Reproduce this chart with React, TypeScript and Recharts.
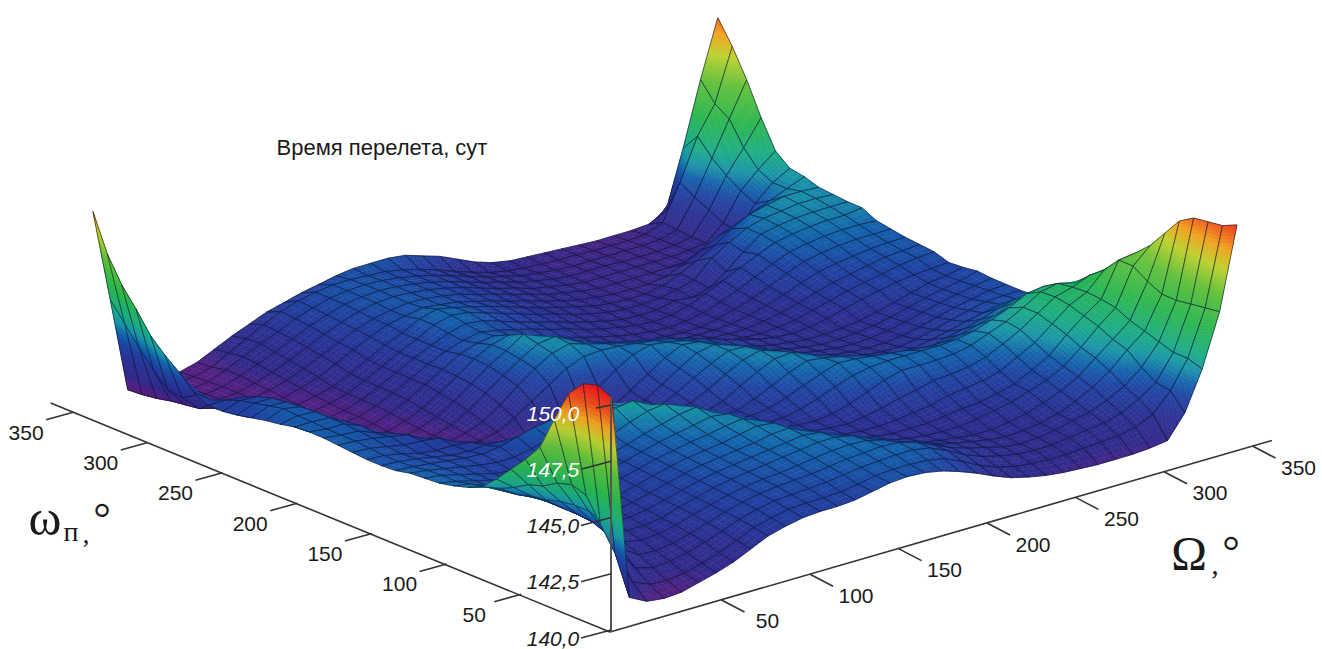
import { ScatterChart, Scatter, XAxis, YAxis } from 'recharts';

// flight time above the 140 day floor, one row per omega step (10 deg), one value per Omega step (10 deg)
const omega0 = [10.3,1.3,.9,.8,.85,1.05,1.25,1.5,1.85,2.2,2.4,2.55,2.6,2.6,2.65,2.8,2.95,3.0,2.95,2.8,2.55,2.25,1.9,1.6,1.4,1.25,1.15,1.1,1.05,1.05,1.05,1.1,1.2,2.2,3.9,6.2,9.8];
const omega10 = [10.6,3.0,1.5,1.15,1.1,1.2,1.4,1.65,1.95,2.3,2.5,2.65,2.7,2.7,2.75,2.85,3.0,3.05,3.05,3.0,2.85,2.5,2.1,1.8,1.6,1.5,1.45,1.45,1.5,1.55,1.6,1.75,2.1,2.9,4.1,6.1,9.5];
const omega20 = [10.4,4.0,2.6,1.6,1.4,1.45,1.6,1.85,2.1,2.4,2.6,2.75,2.8,2.85,2.9,3.0,3.1,3.15,3.2,3.2,3.05,2.7,2.3,2.0,1.8,1.65,1.6,1.6,1.7,1.8,1.9,2.1,2.5,3.0,4.1,6.0,9.4];
const omega30 = [9.7,5.0,3.6,2.2,1.7,1.65,1.75,1.95,2.2,2.45,2.65,2.8,2.9,2.95,3.0,3.1,3.2,3.25,3.3,3.25,3.05,2.7,2.35,2.1,1.9,1.7,1.6,1.65,1.75,1.95,2.1,2.4,2.8,3.4,4.3,5.9,9.3];
const omega40 = [8.3,5.2,3.8,2.6,2.0,1.85,1.9,2.05,2.3,2.5,2.7,2.85,2.95,3.0,3.1,3.2,3.3,3.35,3.3,3.1,2.8,2.5,2.25,2.05,1.9,1.75,1.65,1.7,1.8,2.0,2.3,2.7,3.2,3.9,4.5,5.9,8.9];
const omega50 = [6.8,5.0,3.8,2.85,2.2,2.0,2.0,2.1,2.35,2.55,2.75,2.9,3.0,3.1,3.2,3.3,3.4,3.4,3.25,2.9,2.5,2.25,2.05,1.9,1.8,1.7,1.7,1.8,1.95,2.2,2.5,2.9,3.5,4.1,4.7,6.2,8.1];
const omega60 = [6.0,4.6,3.7,2.9,2.3,2.1,2.1,2.2,2.4,2.6,2.8,2.95,3.05,3.15,3.25,3.35,3.45,3.35,3.0,2.6,2.3,2.1,1.95,1.85,1.8,1.8,1.9,2.05,2.2,2.45,2.7,3.1,3.7,4.4,5.0,6.6,7.3];
const omega70 = [5.3,4.4,3.5,2.9,2.4,2.2,2.15,2.25,2.45,2.65,2.85,3.0,3.1,3.2,3.3,3.45,3.5,3.15,2.7,2.4,2.15,2.0,1.9,1.9,1.9,2.0,2.1,2.15,2.3,2.5,2.9,3.3,4.0,4.6,5.1,6.6,6.7];
const omega80 = [4.6,4.0,3.4,2.9,2.45,2.3,2.2,2.3,2.5,2.7,2.9,3.05,3.15,3.25,3.4,3.55,3.45,2.95,2.5,2.25,2.05,1.95,1.95,2.0,2.1,2.2,2.4,2.5,2.6,2.8,3.2,3.6,4.2,4.8,5.15,5.9,6.1];
const omega90 = [4.0,3.7,3.2,2.85,2.5,2.35,2.3,2.35,2.55,2.75,2.95,3.1,3.25,3.35,3.5,3.6,3.3,2.75,2.35,2.15,2.05,2.0,2.1,2.25,2.45,2.6,2.8,2.85,2.95,3.15,3.5,3.9,4.4,4.9,5.1,5.4,5.4];
const omega100 = [3.7,3.5,3.1,2.8,2.5,2.4,2.35,2.4,2.6,2.8,3.0,3.2,3.35,3.5,3.65,3.55,3.05,2.55,2.25,2.15,2.1,2.2,2.4,2.7,3.0,3.2,3.2,3.2,3.25,3.4,3.7,4.0,4.4,4.85,5.0,4.8,4.7];
const omega110 = [3.5,3.35,3.05,2.8,2.55,2.4,2.35,2.45,2.65,2.85,3.05,3.3,3.5,3.7,3.8,3.35,2.8,2.4,2.2,2.2,2.35,2.6,2.9,3.15,3.3,3.35,3.35,3.35,3.35,3.4,3.55,3.8,4.1,4.5,4.6,4.2,4.0];
const omega120 = [3.35,3.2,3.0,2.8,2.55,2.4,2.4,2.5,2.7,2.95,3.25,3.55,3.8,3.9,3.6,3.0,2.55,2.3,2.25,2.35,2.6,2.9,3.2,3.45,3.4,3.3,3.2,3.1,3.0,3.0,3.1,3.3,3.5,3.8,3.9,3.5,3.3];
const omega130 = [3.3,3.2,3.0,2.8,2.6,2.5,2.5,2.6,2.85,3.2,3.6,3.9,4.0,3.6,3.0,2.5,2.25,2.15,2.2,2.5,2.85,3.2,3.5,3.4,3.25,3.05,2.85,2.65,2.5,2.45,2.7,2.85,3.05,3.3,3.5,3.45,3.4];
const omega140 = [3.25,3.15,3.0,2.85,2.7,2.6,2.6,2.75,3.0,3.4,3.75,3.95,3.5,2.9,2.4,2.15,2.05,2.1,2.35,2.8,3.2,3.55,3.6,3.3,3.0,2.75,2.5,2.3,2.2,2.2,2.35,2.5,2.7,2.85,3.0,3.0,2.95];
const omega150 = [3.1,3.05,2.95,2.85,2.75,2.7,2.8,3.0,3.2,3.3,3.2,2.9,2.5,2.2,2.05,2.0,2.05,2.25,2.6,3.05,3.45,3.65,3.4,3.0,2.7,2.45,2.25,2.1,2.0,2.0,2.1,2.3,2.5,2.7,2.85,2.9,2.9];
const omega160 = [3.05,3.0,2.9,2.75,2.6,2.55,2.6,2.55,2.4,2.1,1.9,1.7,1.55,1.5,1.6,1.8,2.05,2.4,2.85,3.25,3.6,3.55,3.2,2.8,2.5,2.25,2.05,1.95,1.9,1.9,2.0,2.15,2.35,2.55,2.7,2.85,2.9];
const omega170 = [3.05,3.0,2.85,2.65,2.55,2.55,2.45,2.2,1.85,1.6,1.35,1.2,1.15,1.2,1.4,1.7,2.05,2.5,3.0,3.45,3.6,3.35,3.0,2.65,2.35,2.1,1.95,1.85,1.8,1.85,1.95,2.1,2.3,2.5,2.65,2.8,2.9];
const omega180 = [3.1,3.05,2.9,2.75,2.7,2.6,2.2,1.75,1.4,1.15,1.0,.95,1.0,1.15,1.4,1.75,2.2,2.7,3.2,3.55,3.45,3.15,2.8,2.5,2.2,2.0,1.85,1.75,1.75,1.8,1.9,2.05,2.25,2.45,2.6,2.75,2.95];
const omega190 = [3.15,3.1,3.0,2.85,2.7,2.3,1.8,1.4,1.1,.95,.9,.95,1.15,1.45,1.8,2.3,2.85,3.3,3.5,3.4,3.25,2.95,2.65,2.35,2.1,1.9,1.8,1.7,1.7,1.75,1.85,2.0,2.2,2.4,2.6,2.7,2.85];
const omega200 = [3.2,3.1,3.05,2.75,2.5,1.9,1.4,1.1,1.0,1.05,1.2,1.6,2.1,2.6,3.1,3.4,3.45,3.4,3.3,3.2,3.05,2.85,2.6,2.35,2.1,1.9,1.75,1.7,1.75,1.9,2.1,2.3,2.45,2.6,2.7,2.75,2.8];
const omega210 = [3.2,3.1,3.1,2.8,2.2,1.5,1.1,.95,.95,1.1,1.4,1.9,2.5,3.05,3.5,3.7,3.45,3.25,3.05,2.9,2.7,2.45,2.2,1.95,1.8,1.7,1.65,1.7,1.8,2.0,2.2,2.4,2.55,2.7,2.85,2.95,3.0];
const omega220 = [3.15,3.15,3.1,2.7,1.9,1.25,.95,.85,.95,1.2,1.6,2.15,2.7,3.2,3.65,3.75,3.35,3.05,2.8,2.6,2.4,2.2,2.0,1.8,1.65,1.6,1.6,1.7,1.85,2.05,2.3,2.5,2.65,2.8,2.95,3.0,3.05];
const omega230 = [3.0,3.15,3.1,2.5,1.6,1.05,.85,.85,1.0,1.3,1.75,2.3,2.85,3.3,3.8,3.5,3.05,2.7,2.45,2.25,2.05,1.85,1.7,1.55,1.5,1.5,1.55,1.7,1.9,2.15,2.45,2.7,2.85,2.95,3.05,3.1,3.1];
const omega240 = [2.9,3.2,3.05,2.2,1.3,.9,.8,.85,1.05,1.4,1.85,2.35,2.9,3.3,3.5,3.05,2.7,2.45,2.2,2.0,1.8,1.6,1.45,1.4,1.35,1.35,1.5,1.7,1.95,2.25,2.6,2.9,3.05,3.15,3.2,3.2,3.2];
const omega250 = [2.75,3.05,3.0,1.9,1.1,.85,.8,.9,1.15,1.5,1.95,2.4,2.85,3.1,3.2,2.95,2.7,2.45,2.2,2.0,1.8,1.6,1.45,1.35,1.3,1.35,1.5,1.75,2.05,2.4,2.75,3.05,3.2,3.3,3.35,3.35,3.3];
const omega260 = [2.6,2.9,2.9,1.65,1.0,.85,.85,.95,1.2,1.55,1.95,2.35,2.7,2.95,3.1,2.95,2.75,2.55,2.3,2.1,1.85,1.65,1.5,1.35,1.3,1.35,1.55,1.85,2.2,2.55,2.9,3.2,3.35,3.45,3.5,3.5,3.6];
const omega270 = [2.5,2.75,2.7,1.45,.95,.85,.85,.95,1.2,1.55,1.95,2.35,2.7,3.0,3.2,3.1,2.85,2.6,2.35,2.15,1.9,1.7,1.5,1.35,1.3,1.3,1.5,1.4,1.6,2.1,2.75,3.3,3.45,3.55,3.6,3.6,3.6];
const omega280 = [2.5,2.5,2.4,1.3,.95,.85,.85,1.0,1.2,1.55,1.95,2.35,2.7,3.1,3.3,3.2,2.95,2.7,2.45,2.2,2.0,1.75,1.55,1.4,1.3,1.3,1.35,1.5,1.7,2.45,2.9,3.3,3.5,3.6,3.7,3.7,3.65];
const omega290 = [2.8,2.25,1.95,1.05,.9,.85,.9,1.05,1.25,1.6,2.0,2.4,2.7,3.1,3.3,3.15,2.95,2.75,2.5,2.25,2.0,1.8,1.6,1.4,1.3,1.25,1.25,1.4,1.7,2.05,2.5,3.0,3.4,3.6,3.75,3.75,3.7];
const omega300 = [3.4,2.2,1.6,.95,.85,.85,.95,1.15,1.4,1.75,2.15,2.5,2.8,2.95,3.1,3.0,2.9,2.7,2.5,2.25,2.05,1.8,1.6,1.4,1.3,1.2,1.2,1.2,1.3,1.6,2.0,2.4,2.7,3.0,3.3,3.6,3.9];
const omega310 = [3.9,1.8,1.1,.9,.8,.85,1.0,1.2,1.5,1.85,2.2,2.55,2.8,2.95,3.05,3.0,2.9,2.75,2.5,2.3,2.05,1.85,1.6,1.45,1.3,1.2,1.2,1.2,1.2,1.2,1.25,1.3,1.45,1.9,2.9,3.6,4.0];
const omega320 = [4.5,1.9,1.0,.85,.8,.85,1.05,1.3,1.6,1.95,2.3,2.6,2.85,3.0,3.05,3.0,2.9,2.75,2.55,2.3,2.05,1.85,1.6,1.45,1.3,1.2,1.2,1.2,1.2,1.2,1.2,1.25,1.35,2.0,3.2,3.9,4.5];
const omega330 = [5.4,2.5,.9,.8,.75,.85,1.1,1.4,1.7,2.05,2.4,2.65,2.9,3.0,3.05,3.0,2.9,2.75,2.55,2.3,2.05,1.85,1.6,1.45,1.3,1.2,1.2,1.2,1.15,1.15,1.15,1.2,1.35,2.3,3.6,4.6,5.7];
const omega340 = [6.2,3.2,.75,.7,.7,.8,1.1,1.45,1.8,2.1,2.45,2.7,2.9,3.0,3.05,3.0,2.9,2.75,2.55,2.3,2.05,1.8,1.6,1.4,1.3,1.2,1.15,1.15,1.15,1.15,1.15,1.2,1.4,2.6,4.1,5.6,7.1];
const omega350 = [7.3,4.0,.65,.65,.7,.75,.95,1.35,1.75,2.15,2.5,2.75,2.9,3.0,3.0,2.95,2.9,2.75,2.55,2.3,2.0,1.75,1.5,1.35,1.25,1.2,1.15,1.15,1.1,1.1,1.1,1.15,1.45,3.0,4.8,6.0,8.3];
const omega360 = [8.9,4.8,.6,.6,.6,.7,.9,1.25,1.6,1.9,2.2,2.4,2.6,2.75,2.9,3.0,3.0,3.0,2.9,2.65,2.4,2.05,1.7,1.45,1.3,1.25,1.2,1.15,1.1,1.05,1.05,1.05,1.1,1.45,4.0,6.8,9.3];

const surfaceRows = [
  omega0, omega10, omega20, omega30, omega40, omega50, omega60, omega70, omega80, omega90,
  omega100, omega110, omega120, omega130, omega140, omega150, omega160, omega170, omega180,
  omega190, omega200, omega210, omega220, omega230, omega240, omega250, omega260, omega270,
  omega280, omega290, omega300, omega310, omega320, omega330, omega340, omega350, omega360,
];

const omegaTicks = [50, 100, 150, 200, 250, 300, 350];
const bigOmegaTicks = [50, 100, 150, 200, 250, 300, 350];
const timeTicks = [0, 2.5, 5, 7.5, 10];
const timeLabels = ['140,0', '142,5', '145,0', '147,5', '150,0'];
const title = 'Время перелета, сут';

const STEP = 10;

// 3D box -> page position
const project = (bigOmega: number, omega: number, h: number) => ({
  x: 612 + 1.736 * bigOmega - 1.442 * omega,
  y: 632 - 0.513 * bigOmega - 0.607 * omega - 22.7 * h,
});

const colorStops: [number, number[]][] = [
  [0.6, [88, 32, 128]],
  [0.95, [80, 34, 132]],
  [1.3, [50, 42, 138]],
  [2.0, [44, 48, 146]],
  [2.8, [32, 68, 162]],
  [3.3, [20, 100, 172]],
  [3.8, [26, 148, 168]],
  [4.4, [28, 172, 132]],
  [5.5, [44, 182, 78]],
  [6.8, [96, 192, 60]],
  [7.9, [190, 208, 48]],
  [8.7, [240, 164, 32]],
  [9.5, [238, 84, 30]],
  [10.4, [232, 28, 30]],
];

function heightColor(h: number) {
  if (h <= colorStops[0][0]) return `rgb(${colorStops[0][1].join(',')})`;
  for (let k = 1; k < colorStops.length; k++) {
    const [h1, c1] = colorStops[k];
    if (h <= h1) {
      const [h0, c0] = colorStops[k - 1];
      const t = (h - h0) / (h1 - h0);
      return `rgb(${c0.map((v, n) => Math.round(v + (c1[n] - v) * t)).join(',')})`;
    }
  }
  return `rgb(${colorStops[colorStops.length - 1][1].join(',')})`;
}

// back to front, so nearer cells paint over farther ones
const cells: any[] = [];
for (let j = surfaceRows.length - 2; j >= 0; j--) {
  for (let i = surfaceRows[j].length - 2; i >= 0; i--) {
    const corners = [
      [i, j],
      [i + 1, j],
      [i + 1, j + 1],
      [i, j + 1],
    ].map(([a, b]) => ({ O: a * STEP, w: b * STEP, h: surfaceRows[b][a] }));
    const center = project(
      (i + 0.5) * STEP,
      (j + 0.5) * STEP,
      (corners[0].h + corners[1].h + corners[2].h + corners[3].h) / 4,
    );
    cells.push({ x: center.x, y: center.y, corners });
  }
}

function SurfaceCell({ cx, cy, payload }: any) {
  const { corners, x, y } = payload;
  const heights = corners.map((c: any) => c.h);
  const spread = Math.max(...heights) - Math.min(...heights);
  const n = Math.min(30, Math.max(2, Math.ceil(spread / 0.15)));
  const at = (u: number, v: number) => {
    const O = corners[0].O + u * STEP;
    const w = corners[0].w + v * STEP;
    const h =
      corners[0].h * (1 - u) * (1 - v) +
      corners[1].h * u * (1 - v) +
      corners[2].h * u * v +
      corners[3].h * (1 - u) * v;
    const p = project(O, w, h);
    return { px: cx + p.x - x, py: cy + p.y - y, h };
  };
  const parts = [];
  for (let a = 0; a < n; a++) {
    for (let b = 0; b < n; b++) {
      const q = [at(a / n, b / n), at((a + 1) / n, b / n), at((a + 1) / n, (b + 1) / n), at(a / n, (b + 1) / n)];
      const fill = heightColor((q[0].h + q[1].h + q[2].h + q[3].h) / 4);
      parts.push(
        <polygon
          key={`${a}-${b}`}
          points={q.map((p) => `${p.px.toFixed(1)},${p.py.toFixed(1)}`).join(' ')}
          fill={fill}
          stroke={fill}
          strokeWidth={0.5}
        />,
      );
    }
  }
  const outline = [at(0, 0), at(1, 0), at(1, 1), at(0, 1)];
  return (
    <g>
      {parts}
      <polygon
        points={outline.map((p) => `${p.px.toFixed(1)},${p.py.toFixed(1)}`).join(' ')}
        fill="none"
        stroke="#0c1430"
        strokeOpacity={0.75}
        strokeWidth={0.8}
      />
    </g>
  );
}

function TextMark({ cx, cy, payload }: any) {
  return (
    <text
      x={cx}
      y={cy}
      textAnchor="middle"
      dominantBaseline="central"
      fontFamily={payload.family || 'Liberation Sans'}
      fontSize={payload.size || 21}
      fontStyle={payload.italic ? 'italic' : 'normal'}
      fill={payload.fill || '#1a1a1a'}
    >
      {payload.text}
    </text>
  );
}

const NoMark = () => <g />;

const omegaAxisAt = (v: number) => ({ x: 596 - 1.494 * v, y: 624.6 - 0.607 * v });
const bigOmegaAxisAt = (v: number) => ({ x: 633 + 1.77 * v, y: 625.6 - 0.513 * v });
const timeAxisAt = (h: number) => ({ x: 611, y: 630 - 22.5 * h });

const textMarks = [
  ...omegaTicks.map((v) => ({ x: omegaAxisAt(v).x - 47, y: omegaAxisAt(v).y + 20, text: String(v) })),
  ...bigOmegaTicks.map((v) => ({ x: bigOmegaAxisAt(v).x + 46, y: bigOmegaAxisAt(v).y + 21, text: String(v) })),
  ...timeTicks.map((h, k) => ({
    x: timeAxisAt(h).x - 58,
    y: timeAxisAt(h).y + 8,
    text: timeLabels[k],
    italic: true,
    fill: h > 6 ? '#ffffff' : '#1a1a1a',
  })),
  { x: 382, y: 147, text: title, size: 22 },
  { x: 45, y: 518, text: 'ω', size: 50, family: 'Liberation Serif' },
  { x: 71, y: 531, text: 'п', size: 28, family: 'Liberation Serif' },
  { x: 86, y: 533, text: ',', size: 28, family: 'Liberation Serif' },
  { x: 102, y: 518, text: '°', size: 44, family: 'Liberation Serif' },
  { x: 1189, y: 553, text: 'Ω', size: 48, family: 'Liberation Serif' },
  { x: 1215, y: 563, text: ',', size: 30, family: 'Liberation Serif' },
  { x: 1231, y: 551, text: '°', size: 44, family: 'Liberation Serif' },
];

const axisColor = '#333';

// axes and ticks are two-point scatter series, so they stack over the surface like the original
const axisSegments = [
  { key: 'omega', points: [{ x: 610, y: 632 }, omegaAxisAt(365)] },
  { key: 'bigOmega', points: [{ x: 610, y: 632 }, bigOmegaAxisAt(361)] },
  { key: 'time', points: [{ x: 611, y: 632 }, { x: 611, y: 397 }], color: '#555', width: 2 },
  ...omegaTicks.map((v) => ({
    key: `w${v}`,
    points: [omegaAxisAt(v), { x: omegaAxisAt(v).x - 27, y: omegaAxisAt(v).y + 7.5 }],
  })),
  ...bigOmegaTicks.map((v) => ({
    key: `O${v}`,
    points: [bigOmegaAxisAt(v), { x: bigOmegaAxisAt(v).x + 23, y: bigOmegaAxisAt(v).y + 12 }],
  })),
  ...timeTicks.map((h) => ({
    key: `t${h}`,
    points: [timeAxisAt(h), { x: timeAxisAt(h).x - (h === 10 ? 15 : 30), y: timeAxisAt(h).y + (h === 10 ? 3 : 8) }],
  })),
];

export default function App() {
  return (
    <div style={{ position: 'absolute', left: 0, top: 0, width: 1322, height: 649, background: '#fff' }}>
      <ScatterChart width={1322} height={649} margin={{ top: 0, right: 0, bottom: 0, left: 0 }}>
        <XAxis type="number" dataKey="x" domain={[0, 1322]} hide />
        <YAxis type="number" dataKey="y" domain={[0, 649]} reversed hide />
        <Scatter data={cells} shape={SurfaceCell} isAnimationActive={false} />

        {axisSegments.map((s: any) => (
          <Scatter
            key={s.key}
            data={s.points}
            shape={NoMark}
            line={{ stroke: s.color || axisColor, strokeWidth: s.width || 1.6 }}
            isAnimationActive={false}
          />
        ))}

        <Scatter data={textMarks} shape={TextMark} isAnimationActive={false} />
      </ScatterChart>
    </div>
  );
}
